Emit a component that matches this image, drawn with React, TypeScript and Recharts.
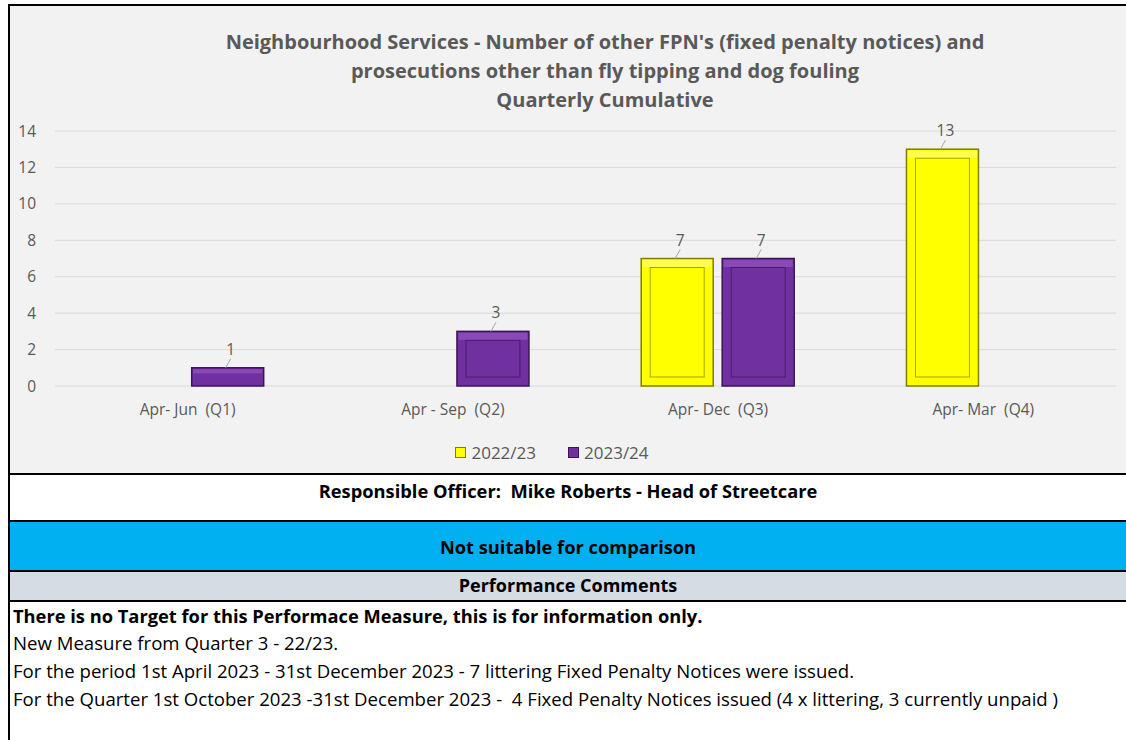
import React from "react"
import { BarChart, Bar, XAxis, YAxis, CartesianGrid, Legend, LabelList } from "recharts"

const quarters = ["Apr- Jun  (Q1)", "Apr - Sep  (Q2)", "Apr- Dec  (Q3)", "Apr- Mar  (Q4)"]
const fy2223 = [null, null, 7, 13]
const fy2324 = [1, 3, 7, null]
const yTicks = [0, 2, 4, 6, 8, 10, 12, 14]

const titleLines = [
  "Neighbourhood Services - Number of other FPN's (fixed penalty notices) and",
  "prosecutions other than fly tipping and dog fouling",
  "Quarterly Cumulative",
]

const comments = [
  "New Measure from Quarter 3 - 22/23.",
  "For the period 1st April 2023 - 31st December 2023 - 7 littering Fixed Penalty Notices were issued.",
  "For the Quarter 1st October 2023 -31st December 2023 -  4 Fixed Penalty Notices issued (4 x littering, 3 currently unpaid )",
]

const data = quarters.map((q, i) => ({ name: q, a: fy2223[i], b: fy2324[i] }))

const FONT = "'Open Sans', 'Noto Sans', sans-serif"
const GREY = "#595959"

const colors: Record<string, { fill: string; edge: string; light: string }> = {
  a: { fill: "#ffff00", edge: "#7f7f00", light: "#ffff80" },
  b: { fill: "#7030a0", edge: "#3a1458", light: "#9a5cc8" },
}

const bevel = (key: string) => (props: any) => {
  const { x, y, width, height } = props
  if (!height || height <= 0) return <g />
  const c = colors[key]
  const inset = Math.min(9, height / 3)
  return (
    <g>
      <rect x={x} y={y} width={width} height={height} fill={c.fill} stroke={c.edge} strokeWidth={1.5} />
      <rect x={x + 1.5} y={y + 1.5} width={width - 3} height={Math.max(1, inset - 2)} fill={c.light} opacity={0.6} />
      {height > 24 && (
        <rect x={x + inset} y={y + inset} width={width - inset * 2} height={height - inset * 2} fill="none" stroke={c.edge} strokeWidth={1} opacity={0.7} />
      )}
    </g>
  )
}

const valueLabel = (props: any) => {
  const { x, y, width, value } = props
  if (value == null) return null
  const cx = x + width / 2
  return (
    <g>
      <line x1={cx - 2} y1={y} x2={cx + 3} y2={y - 9} stroke="#a6a6a6" strokeWidth={1} />
      <text x={cx + 3} y={y - 13} textAnchor="middle" fill={GREY} fontSize={15.5} fontFamily={FONT}>
        {value}
      </text>
    </g>
  )
}

const CatTick = (props: any) => {
  const { x, y, payload } = props
  return (
    <text x={x} y={y} dy="0.71em" textAnchor="middle" fill={GREY} fontSize={15.5} fontFamily={FONT}>
      {String(payload.value).replace(/ /g, "\u00a0")}
    </text>
  )
}

const LegendContent = (props: any) => {
  const items = props.payload || []
  return (
    <div style={{ display: "flex", justifyContent: "center", gap: 32, paddingTop: 15, paddingRight: 22, fontFamily: FONT, fontSize: 17, color: GREY }}>
      {items.map((it: any) => (
        <div key={it.dataKey} style={{ display: "flex", alignItems: "center", gap: 5 }}>
          <span style={{ display: "inline-block", width: 9, height: 9, background: colors[it.dataKey].fill, border: `1px solid ${colors[it.dataKey].edge}` }} />
          <span>{it.value}</span>
        </div>
      ))}
    </div>
  )
}

export default function App() {
  return (
    <div style={{ position: "absolute", left: 8, top: 4, width: 1118, height: 740, fontFamily: FONT }}>
      <div style={{ position: "relative", width: 1116, height: 467, background: "#f2f2f2", borderLeft: "2px solid #000", borderTop: "2px solid #000" }}>
        <BarChart width={1116} height={467} data={data} margin={{ top: 125, right: 10, left: 0, bottom: 11 }} barGap={9} barCategoryGap="21%">
          <CartesianGrid vertical={false} stroke="#d9d9d9" />
          <XAxis dataKey="name" axisLine={false} tickLine={false} tickMargin={12} height={40} tick={<CatTick />} interval={0} />
          <YAxis width={45} domain={[0, 14]} ticks={yTicks} axisLine={false} tickLine={false} tickMargin={13} tick={{ fill: GREY, fontSize: 15.5, fontFamily: FONT }} />
          <Legend verticalAlign="bottom" height={36} content={<LegendContent />} />
          <Bar dataKey="a" name="2022/23" fill={colors.a.fill} shape={bevel("a")} isAnimationActive={false}>
            <LabelList dataKey="a" content={valueLabel} />
          </Bar>
          <Bar dataKey="b" name="2023/24" fill={colors.b.fill} shape={bevel("b")} isAnimationActive={false}>
            <LabelList dataKey="b" content={valueLabel} />
          </Bar>
        </BarChart>
        <div style={{ position: "absolute", left: 0, top: 21, width: 1190, textAlign: "center", color: GREY, fontWeight: 700, fontSize: 20, lineHeight: "29px" }}>
          {titleLines.map((t) => (
            <div key={t}>{t}</div>
          ))}
        </div>
      </div>
      <div style={{ borderLeft: "2px solid #000", borderTop: "2px solid #000", height: 45, background: "#fff", textAlign: "center", fontWeight: 700, fontSize: 18.3, lineHeight: "32px" }}>
        Responsible Officer:&nbsp; Mike Roberts - Head of Streetcare
      </div>
      <div style={{ borderLeft: "2px solid #000", borderTop: "2px solid #000", height: 48, background: "#00b0f0", textAlign: "center", fontWeight: 700, fontSize: 18.3, lineHeight: "50px" }}>
        Not suitable for comparison
      </div>
      <div style={{ borderLeft: "2px solid #000", borderTop: "2px solid #000", height: 28, background: "#d6dce4", textAlign: "center", fontWeight: 700, fontSize: 18, lineHeight: "27px" }}>
        Performance Comments
      </div>
      <div style={{ borderLeft: "2px solid #000", borderTop: "2px solid #000", height: 140, background: "#fff", paddingLeft: 3, fontSize: 18.6 }}>
        <div style={{ fontWeight: 700, fontSize: 18.3, lineHeight: "27px" }}>There is no Target for this Performace Measure, this is for information only.</div>
        {comments.map((c) => (
          <div key={c} style={{ lineHeight: "28px", whiteSpace: "pre" }}>{c}</div>
        ))}
      </div>
    </div>
  )
}
